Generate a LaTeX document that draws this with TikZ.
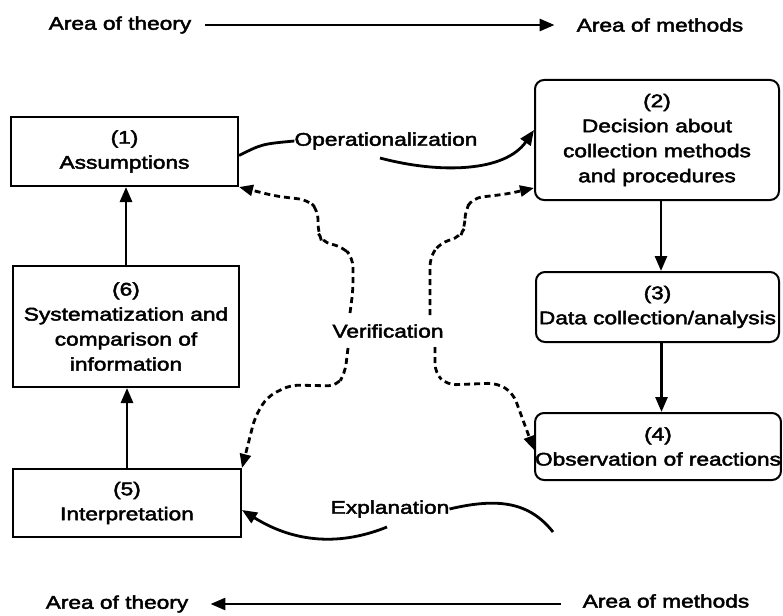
\documentclass[tikz,border=0pt]{standalone}
\usepackage{fontspec}
\setmainfont[FakeStretch=1.24,FakeBold=2.5]{Liberation Sans}
\usetikzlibrary{arrows.meta}
\begin{document}
\begin{tikzpicture}[x=1pt,y=-1pt,
  every node/.style={font=\fontsize{18.3}{25}\selectfont, align=center, inner sep=0pt},
  sqbox/.style={draw, line width=2pt},
  rbox/.style={draw, line width=2pt, rounded corners=9pt},
  arr/.style={line width=2.8pt, -{Triangle[length=15pt,width=12pt]}},
  ln/.style={line width=2.8pt},
  dsh/.style={line width=2.8pt, dash pattern=on 6pt off 4pt, rounded corners=9pt},
  darr/.style={dsh, -{Triangle[length=14pt,width=11pt]}},
]
\useasboundingbox (0,0) rectangle (783,615);

% top and bottom labels
\node (tt) at (120,25) {Area of theory};
\node (tm) at (660,25) {Area of methods};
\node (bt) at (117,604) {Area of theory};
\node (bm) at (666,601) {Area of methods};
\draw[arr] ([xshift=14pt]tt.east) -- ([xshift=-22pt]tm.west);
\draw[arr] ([xshift=-22pt]bm.west |- bt.east) -- ([xshift=22pt]bt.east);

% boxes
\node[sqbox, minimum width=227pt, minimum height=69pt] (b1) at (124.5,151.5) {(1)\\Assumptions};
\node[rbox, minimum width=244pt, minimum height=120pt] (b2) at (657,140) {(2)\\Decision about\\collection methods\\and procedures};
\node[rbox, minimum width=243pt, minimum height=70pt] (b3) at (657.5,307) {(3)\\Data collection/analysis};
\node[rbox, minimum width=242pt, minimum height=67pt] (b4) at (658,446.5) {(4)\\Observation of reactions};
\node[sqbox, minimum width=228pt, minimum height=68pt] (b5) at (127,503) {(5)\\Interpretation};
\node[sqbox, minimum width=226pt, minimum height=121pt] (b6) at (126,326.5) {(6)\\Systematization and\\comparison of\\information};

% vertical arrows
\draw[arr] (b6.north) -- (b6.north |- b1.south);
\draw[arr] (b5.north) -- (b5.north |- b6.south);
\draw[arr] ([xshift=4pt]b2.south) -- ([xshift=4pt]b2.south |- b3.north);
\draw[arr] ([xshift=4pt]b3.south) -- ([xshift=4pt]b3.south |- b4.north);

% operationalization
\node (op) at (386,141) {Operationalization};
\coordinate (op1) at (380,158);
\draw[ln] ([yshift=-4pt]b1.east) .. controls (262,144) .. (op.west);
\draw[arr] (op1) .. controls (440,174) and (505,172) .. ([yshift=10pt]b2.west);

% explanation
\node (ex) at (390,509) {Explanation};
\coordinate (ex1) at (387,527);
\coordinate (ex2) at (553,532);
\draw[ln] (ex.east) .. controls (500,497) and (530,503) .. (ex2);
\draw[arr] (ex1) .. controls (335,548) and (290,540) .. ([yshift=-7pt]b5.east);

% verification
\node (ver) at (388,331) {Verification};
\coordinate (v1) at (350,313);
\coordinate (v2) at (348,348);
\coordinate (v3) at (430,315);
\coordinate (v4) at (435,347);
\draw[darr] (v1) -- (353,290) -- (353,258) -- (343,247) -- (322,242) -- (318,232) -- (318,210) -- (308,200) -- (275,196) -- (b1.south east);
\draw[darr] (v2) -- (345,373) -- (337,386) -- (290,385) -- (267,397) -- (255,417) -- (b5.north east);
\draw[darr] (v3) -- (430,257) -- (440,243) -- (460,237) -- (465,227) -- (465,210) -- (473,198) -- (507,194) -- ([yshift=13pt]b2.south west);
\draw[darr] (v4) -- (435,373) -- (447,385) -- (497,383) -- (513,393) -- ([yshift=-3.5pt]b4.west);
\end{tikzpicture}
\end{document}
